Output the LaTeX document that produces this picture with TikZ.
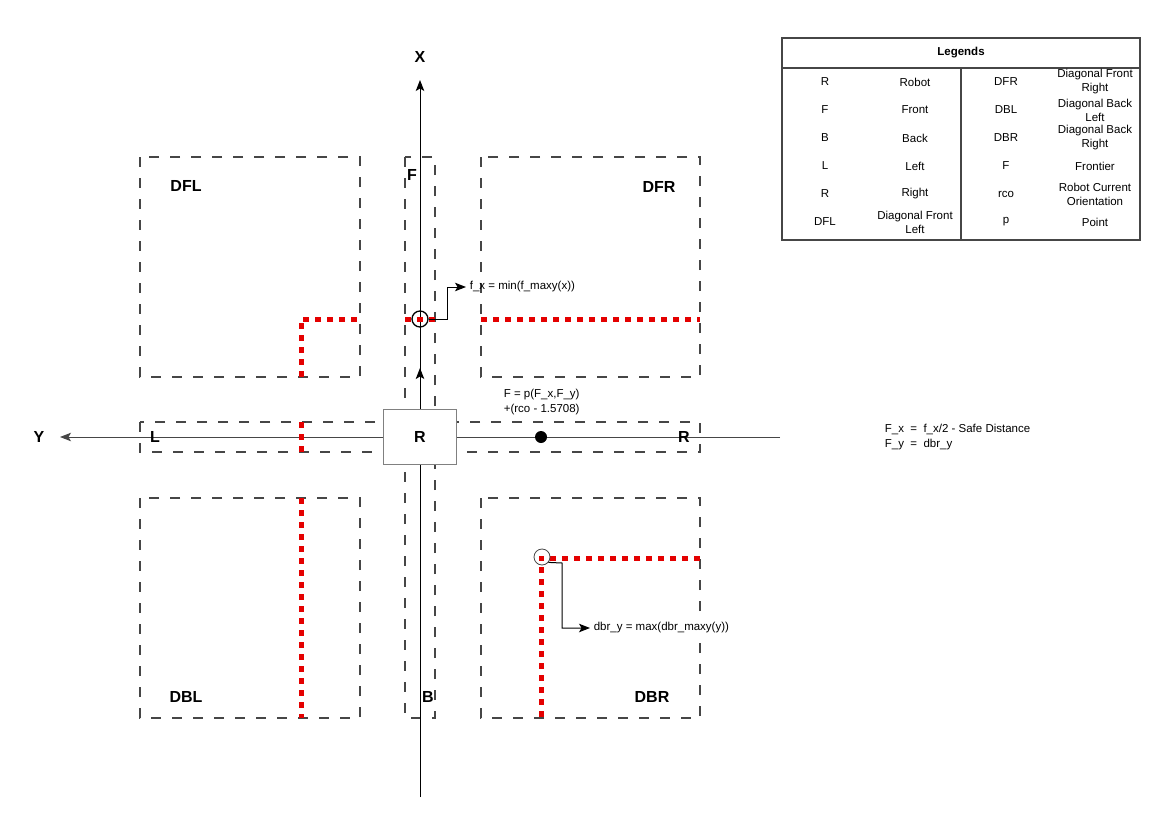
\documentclass[tikz,border=0pt]{standalone}
\usepackage{fontspec}
\setmainfont{Liberation Sans}
\usetikzlibrary{shapes,arrows,arrows.meta}
\definecolor{frontred}{RGB}{228,0,0}
\definecolor{linegray}{RGB}{70,70,70}
\tikzstyle{region} = [draw=linegray, line width=1.1pt,
    dash pattern=on 10pt off 11pt]
\tikzstyle{robot} = [draw=gray, line width=1.5pt, fill=white, rectangle,
    minimum width=73pt, minimum height=55pt,
    font=\fontsize{16}{19}\selectfont\bfseries]
\tikzstyle{zone} = [font=\fontsize{16}{19}\selectfont\bfseries]
\tikzstyle{note} = [font=\fontsize{11.5}{15}\selectfont, align=left]
\tikzstyle{cell} = [font=\fontsize{11.5}{14}\selectfont, align=center]
\tikzstyle{frontier} = [draw=frontred, line width=5pt,
    dash pattern=on 6pt off 6pt]
\tikzstyle{probe} = [draw, circle, minimum size=16pt, inner sep=0pt]
\tikzstyle{marker} = [circle, fill, minimum size=12pt, inner sep=0pt]

\begin{document}
\begin{tikzpicture}[x=1pt, y=-1pt, line width=1pt,
    >={Stealth[length=11pt,width=8.5pt,inset=2.5pt]}]
    \useasboundingbox (0,0) rectangle (1170,827);
    % We start by placing the regions round the robot
    \draw [region] (140,157) rectangle (360,377);
    \draw [region] (481,157) rectangle (700,377);
    \draw [region] (140,498) rectangle (360,718);
    \draw [region] (481,498) rectangle (700,718);
    \draw [region] (405,157) rectangle (435,718);
    \draw [region] (140,422) rectangle (700,452);

    % the two axes, X to the front and Y to the left
    \coordinate (xbot) at (420,797);
    \coordinate (xtop) at (420,80);
    \coordinate (yend) at (780,437);
    \coordinate (ytip) at (60,437);
    \node [zone] (xlab) at (420,57) {X};
    \node [zone] (ylab) at (39,437) {Y};
    \draw [->] (xbot) -- (xtop);
    \draw [->, draw=linegray] (yend) -- (ytip);

    % the frontier cells found in each region
    \draw [frontier] (357,319) -- (301,319) -- (301,377);
    \draw [frontier] (405,319) -- (435,319);
    \draw [frontier] (481,319) -- (700,319);
    \draw [frontier] (301,422) -- (301,452);
    \draw [frontier] (301,498) -- (301,718);
    \draw [frontier] (700,558) -- (541,558) -- (541,718);

    % Once the regions are drawn, place the robot and the labels
    \node [robot] (robot) at (420,437) {R};
    \coordinate (head) at (420,368);
    \draw [->] (robot.north) -- (head);
    \node [marker] (goal) at (541,437) {};

    \node [zone] (dfl) at (186,186) {DFL};
    \node [zone] (dfr) at (659,187) {DFR};
    \node [zone] (dbl) at (186,697) {DBL};
    \node [zone] (dbr) at (652,697) {DBR};
    \node [zone] (front) at (412,175) {F};
    \node [zone] (back) at (428,697) {B};
    \node [zone] (left) at (155,437) {L};
    \node [zone] (right) at (684,437) {R};

    % the two points picked on the frontiers
    \node [probe, line width=1.3pt] (fprobe) at (420,319) {};
    \node [probe, draw=linegray, line width=0.8pt] (dprobe) at (542,557) {};
    \node [note, anchor=west] (fxnote) at (466,287) {f\_x = min(f\_maxy(x))};
    \node [note, anchor=west, fill=white] (dbrnote) at (590,628)
        {dbr\_y = max(dbr\_maxy(y))};
    \coordinate (fbend) at (447,319);
    \coordinate (dbend) at (562,563);
    \draw [->] (fprobe.east) -- (fbend) |- (fxnote.west);
    \draw [->] (dprobe.-40) -- (dbend) |- (dbrnote.west);

    \node [note, anchor=north west] (fnote) at (500,385)
        {F = p(F\_x,F\_y)\\+(rco - 1.5708)};
    \node [note, anchor=west] (fdef) at (881,437)
        {F\_x\ \ =\ \ f\_x/2 - Safe Distance\\F\_y\ \ =\ \ dbr\_y};

    % the legend table
    \draw [draw=linegray, line width=1.5pt] (782,38) rectangle (1140,240);
    \draw [draw=linegray, line width=1.5pt] (782,68) -- (1140,68);
    \draw [draw=linegray, line width=1.5pt] (961,68) -- (961,240);
    \node [cell, font=\fontsize{11.5}{14}\selectfont\bfseries] (legtitle)
        at (961,53) {Legends};
    \node [cell] (sym1) at (825,82) {R};
    \node [cell] (mean1) at (915,82) {Robot};
    \node [cell] (sym2) at (825,110) {F};
    \node [cell] (mean2) at (915,110) {Front};
    \node [cell] (sym3) at (825,138) {B};
    \node [cell] (mean3) at (915,138) {Back};
    \node [cell] (sym4) at (825,166) {L};
    \node [cell] (mean4) at (915,166) {Left};
    \node [cell] (sym5) at (825,194) {R};
    \node [cell] (mean5) at (915,194) {Right};
    \node [cell] (sym6) at (825,222) {DFL};
    \node [cell] (mean6) at (915,222) {Diagonal Front\\Left};
    \node [cell] (sym7) at (1006,82) {DFR};
    \node [cell] (mean7) at (1095,82) {Diagonal Front\\Right};
    \node [cell] (sym8) at (1006,110) {DBL};
    \node [cell] (mean8) at (1095,110) {Diagonal Back\\Left};
    \node [cell] (sym9) at (1006,138) {DBR};
    \node [cell] (mean9) at (1095,138) {Diagonal Back\\Right};
    \node [cell] (sym10) at (1006,166) {F};
    \node [cell] (mean10) at (1095,166) {Frontier};
    \node [cell] (sym11) at (1006,194) {rco};
    \node [cell] (mean11) at (1095,194) {Robot Current\\Orientation};
    \node [cell] (sym12) at (1006,222) {p};
    \node [cell] (mean12) at (1095,222) {Point};
\end{tikzpicture}
\end{document}
